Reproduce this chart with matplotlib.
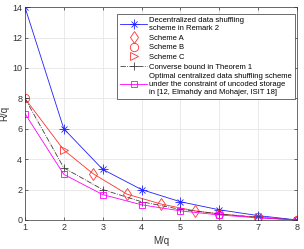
import matplotlib
matplotlib.use("Agg")
import matplotlib.pyplot as plt

plt.rcParams['font.family'] = ['Liberation Sans', 'DejaVu Sans']

# data
m_int = [1, 2, 3, 4, 5, 6, 7, 8]
r_decentral = [14, 6, 3.33, 2, 1.2, 0.67, 0.29, 0]
r_converse = [8, 3.43, 2.0, 1.2, 0.7, 0.4, 0.17, 0]
r_optimal = [7, 3, 1.67, 1.0, 0.6, 0.33, 0.14, 0]

m_a = [2.75, 3.625, 4.5, 5.375]
r_a = [3.05, 1.7, 1.05, 0.6]
m_b = [1, 6, 7, 8]
r_b = [8, 0.4, 0.17, 0]
m_c = [2]
r_c = [4.6]

# the red curve joining schemes A, B and C
m_red = [1, 2, 2.75, 3.625, 4.5, 5.375, 6, 7, 8]
r_red = [8, 4.6, 3.05, 1.7, 1.05, 0.6, 0.4, 0.17, 0]

fig = plt.figure(figsize=(3.04, 2.49), dpi=100)
ax = fig.add_axes([0.082, 0.1165, 0.895, 0.855])

lw = 0.6
red = '#ff3030'
blue = '#2020ff'
ax.plot(m_red, r_red, color=red, linewidth=lw, zorder=2)

# matlab-style asterisk: '+' and 'x' on top of each other
h1a, = ax.plot(m_int, r_decentral, color=blue, linewidth=lw, marker='+',
               markersize=7, markeredgewidth=0.6)
h1b, = ax.plot(m_int, r_decentral, color=blue, linewidth=0, marker='x',
               markersize=5, markeredgewidth=0.6)
h2, = ax.plot(m_a, r_a, linestyle='none', marker='d', markersize=6,
              markerfacecolor='none', markeredgecolor=red,
              markeredgewidth=0.6)
h3, = ax.plot(m_b, r_b, linestyle='none', marker='o', markersize=6,
              markerfacecolor='none', markeredgecolor=red,
              markeredgewidth=0.6)
h4, = ax.plot(m_c, r_c, linestyle='none', marker='>', markersize=6,
              markerfacecolor='none', markeredgecolor=red,
              markeredgewidth=0.6)
h5, = ax.plot(m_int, r_converse, color='#404040', linewidth=lw,
              linestyle='-.', marker='+', markersize=6, markeredgewidth=0.6)
h6, = ax.plot(m_int, r_optimal, color='#ff00ff', linewidth=lw, marker='s',
              markersize=5, markerfacecolor='none', markeredgewidth=0.6)

labels = ['Decentralized data shuffling\nscheme in Remark 2',
          'Scheme A', 'Scheme B', 'Scheme C',
          'Converse bound in Theorem 1',
          'Optimal centralized data shuffling scheme\n'
          'under the constraint of uncoded storage\n'
          'in [12, Elmahdy and Mohajer, ISIT 18]']

ax.set_xlim(1, 8)
ax.set_ylim(0, 14)
ax.set_xticks(m_int)
ax.set_yticks(range(0, 15, 2))
ax.tick_params(direction='in', length=2.5, width=0.5, labelsize=6.5,
               colors='#333333', top=True, right=True, pad=2)
ax.grid(True, color='#e6e6e6', linewidth=0.6)
ax.set_axisbelow(True)
for sp in ax.spines.values():
    sp.set_linewidth(0.5)
    sp.set_color('#333333')

ax.set_xlabel('M/q', fontsize=7, color='#333333', labelpad=3)
ax.set_ylabel('R/q', fontsize=7, color='#333333', labelpad=2)

leg = ax.legend([(h1a, h1b), h2, h3, h4, h5, h6], labels, loc='upper right',
                bbox_to_anchor=(1.0, 0.977), borderaxespad=0.2,
                fontsize=5.5, handlelength=3.5, handletextpad=0.3,
                labelspacing=0.3, borderpad=0.45, fancybox=False,
                framealpha=1, edgecolor='#333333')
leg.get_frame().set_linewidth(0.5)

plt.savefig('out.png', dpi=100)
plt.close(fig)
